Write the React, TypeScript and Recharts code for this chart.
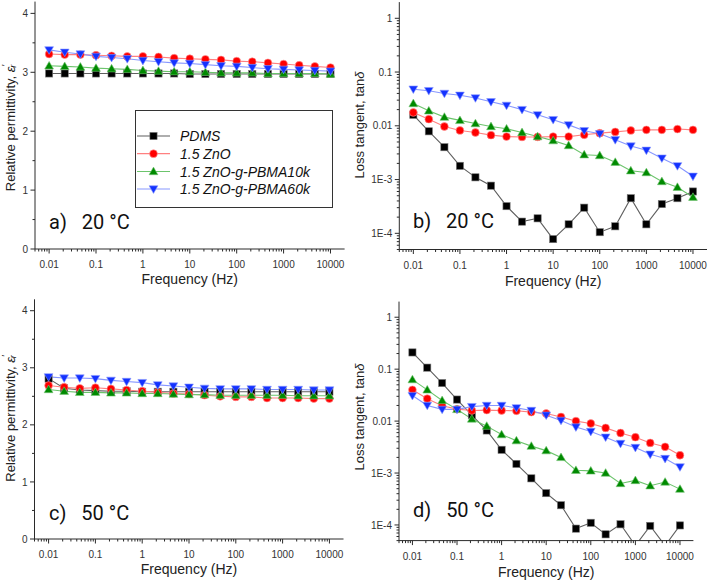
import React from 'react';
import { LineChart, Line, XAxis, YAxis, Legend } from 'recharts';

// ---------- data ----------
const FREQ = [0.01, 0.0215, 0.0464, 0.1, 0.215, 0.464, 1, 2.15, 4.64, 10, 21.5, 46.4, 100, 215, 464, 1000, 2150, 4640, 10000];

const SERIES_NAMES = ['PDMS', '1.5 ZnO', '1.5 ZnO-g-PBMA10k', '1.5 ZnO-g-PBMA60k'];

// a) permittivity 20 °C
const EPS20_PDMS = [2.98, 2.98, 2.98, 2.98, 2.98, 2.98, 2.98, 2.98, 2.98, 2.97, 2.97, 2.97, 2.97, 2.97, 2.97, 2.97, 2.97, 2.97, 2.97];
const EPS20_ZNO = [3.31, 3.30, 3.30, 3.29, 3.28, 3.27, 3.27, 3.26, 3.24, 3.23, 3.22, 3.21, 3.19, 3.18, 3.16, 3.14, 3.12, 3.10, 3.08];
const EPS20_P10 = [3.11, 3.10, 3.09, 3.07, 3.06, 3.05, 3.03, 3.02, 3.01, 3.01, 3.00, 2.99, 2.99, 2.99, 2.98, 2.98, 2.98, 2.98, 2.97];
const EPS20_P60 = [3.38, 3.34, 3.31, 3.27, 3.25, 3.23, 3.20, 3.18, 3.16, 3.15, 3.13, 3.11, 3.10, 3.08, 3.06, 3.05, 3.04, 3.03, 3.02];

// b) loss tangent 20 °C
const TAN20_PDMS = [0.016, 0.0079, 0.0040, 0.0018, 0.0011, 0.00077, 0.00032, 0.000165, 0.00019, 0.000078, 0.000147, 0.0003, 0.000105, 0.000135, 0.00045, 0.000147, 0.00035, 0.00045, 0.0006];
const TAN20_ZNO = [0.0177, 0.0133, 0.0097, 0.0082, 0.0075, 0.0067, 0.0063, 0.0062, 0.0062, 0.0063, 0.0063, 0.0068, 0.0073, 0.0077, 0.0082, 0.0084, 0.0084, 0.0087, 0.0084];
const TAN20_P10 = [0.026, 0.019, 0.0145, 0.0126, 0.011, 0.0097, 0.0088, 0.0075, 0.0063, 0.0053, 0.0043, 0.0029, 0.0028, 0.0021, 0.00146, 0.00135, 0.00092, 0.00072, 0.00047];
const TAN20_P60 = [0.048, 0.045, 0.040, 0.037, 0.033, 0.028, 0.024, 0.020, 0.016, 0.013, 0.0104, 0.0081, 0.0071, 0.0055, 0.0042, 0.0035, 0.0025, 0.0018, 0.00115];

// c) permittivity 50 °C
const EPS50_PDMS = [2.81, 2.64, 2.61, 2.60, 2.59, 2.59, 2.58, 2.58, 2.58, 2.58, 2.58, 2.58, 2.58, 2.58, 2.58, 2.58, 2.58, 2.58, 2.58];
const EPS50_ZNO = [2.69, 2.66, 2.64, 2.65, 2.63, 2.61, 2.59, 2.57, 2.55, 2.54, 2.52, 2.50, 2.49, 2.49, 2.47, 2.47, 2.47, 2.46, 2.46];
const EPS50_P10 = [2.62, 2.59, 2.57, 2.57, 2.56, 2.56, 2.55, 2.55, 2.54, 2.53, 2.53, 2.52, 2.52, 2.52, 2.52, 2.52, 2.51, 2.51, 2.51];
const EPS50_P60 = [2.84, 2.82, 2.82, 2.81, 2.78, 2.76, 2.74, 2.70, 2.68, 2.66, 2.64, 2.63, 2.63, 2.63, 2.62, 2.62, 2.62, 2.61, 2.61];

// d) loss tangent 50 °C
const TAN50_PDMS = [0.21, 0.107, 0.054, 0.026, 0.013, 0.0066, 0.0028, 0.0015, 0.00079, 0.00041, 0.00024, 0.000085, 0.00011, 0.000066, 0.000103, 0.00004, 0.000096, 0.00004, 0.000098];
const TAN50_ZNO = [0.040, 0.027, 0.0197, 0.017, 0.016, 0.0163, 0.016, 0.0158, 0.0149, 0.014, 0.012, 0.010, 0.0090, 0.0074, 0.0059, 0.0049, 0.0038, 0.0032, 0.0022];
const TAN50_P10 = [0.063, 0.040, 0.025, 0.0168, 0.011, 0.0080, 0.0055, 0.0042, 0.0033, 0.0027, 0.0020, 0.00113, 0.0011, 0.0010, 0.00063, 0.00072, 0.00057, 0.00067, 0.00049];
const TAN50_P60 = [0.031, 0.020, 0.0168, 0.0168, 0.019, 0.020, 0.020, 0.018, 0.016, 0.013, 0.0103, 0.0077, 0.0063, 0.0049, 0.0037, 0.0031, 0.0023, 0.0019, 0.00131];

// ticks
const X_MAJOR = [0.01, 0.1, 1, 10, 100, 1000, 10000];
const X_LABELS = ['0.01', '0.1', '1', '10', '100', '1000', '10000'];
const X_DOMAIN = [0.005, 20000];

const EPS_MAJOR = [0, 1, 2, 3, 4];
const EPS_LABELS = ['0', '1', '2', '3', '4'];
const EPS_MINOR = [0.5, 1.5, 2.5, 3.5];

const TAN_MAJOR = [0.0001, 0.001, 0.01, 0.1, 1];
const TAN_LABELS = ['1E-4', '1E-3', '0.01', '0.1', '1'];
const TAN_DOMAIN = [0.00005, 2];

// ---------- helpers ----------
function logMinor(lo: number, hi: number, majors: number[]) {
  const out: number[] = [];
  for (let d = -6; d <= 5; d++) {
    for (let m = 2; m <= 9; m++) {
      const v = m * Math.pow(10, d);
      if (v >= lo * 0.999 && v <= hi * 0.999 && !majors.includes(v)) out.push(v);
    }
  }
  return out;
}
const X_ALL = [...X_MAJOR, ...logMinor(X_DOMAIN[0], X_DOMAIN[1], X_MAJOR)].sort((a, b) => a - b);
const TAN_ALL = [...TAN_MAJOR, ...logMinor(TAN_DOMAIN[0], TAN_DOMAIN[1], TAN_MAJOR)].sort((a, b) => a - b);
const EPS_ALL = [...EPS_MAJOR, ...EPS_MINOR].sort((a, b) => a - b);

function majorIndex(v: number, majors: number[]) {
  return majors.findIndex((m) => Math.abs(m - v) <= Math.abs(m) * 1e-6 + 1e-12);
}

const FONT = '"Liberation Sans", Arial, Helvetica, sans-serif';
const AXIS = '#2a2a2a';
const TICK_FILL = '#333';

const SERIES = [
  { key: 'pdms', kind: 'square', line: '#5f5f5f', mark: '#000000', edge: '#7a7a7a' },
  { key: 'zno', kind: 'circle', line: '#ff8080', mark: '#ff0000', edge: '#ff9a9a' },
  { key: 'p10', kind: 'up', line: '#6cc46c', mark: '#008a00', edge: '#74c474' },
  { key: 'p60', kind: 'down', line: '#8797ff', mark: '#1432ff', edge: '#8a98ff' },
];

function marker(kind: string, cx: number, cy: number, fill: string, edge: string, key: any) {
  if (cx == null || cy == null || isNaN(cx) || isNaN(cy)) return <g key={key} />;
  if (kind === 'square')
    return <rect key={key} x={cx - 3.6} y={cy - 3.6} width={7.2} height={7.2} fill={fill} stroke={edge} strokeWidth={0.6} />;
  if (kind === 'circle')
    return <circle key={key} cx={cx} cy={cy} r={3.9} fill={fill} stroke={edge} strokeWidth={0.6} />;
  if (kind === 'up')
    return <polygon key={key} points={`${cx},${cy - 4.4} ${cx + 4.4},${cy + 3.2} ${cx - 4.4},${cy + 3.2}`} fill={fill} stroke={edge} strokeWidth={0.6} />;
  return <polygon key={key} points={`${cx - 4.4},${cy - 3.2} ${cx + 4.4},${cy - 3.2} ${cx},${cy + 4.4}`} fill={fill} stroke={edge} strokeWidth={0.6} />;
}

function buildRows(a: number[], b: number[], c: number[], d: number[]) {
  return FREQ.map((f, i) => ({ f, pdms: a[i], zno: b[i], p10: c[i], p60: d[i] }));
}

const XTick = (p: any) => {
  const { x, y, payload } = p;
  const idx = majorIndex(payload.value, X_MAJOR);
  const major = idx >= 0;
  return (
    <g>
      <line x1={x} x2={x} y1={y} y2={y + (major ? 4.5 : 2.5)} stroke={AXIS} strokeWidth={1} />
      {major && (
        <text x={x} y={y + 19} textAnchor="middle" fontSize={10} fontFamily={FONT} fill={TICK_FILL}>
          {X_LABELS[idx]}
        </text>
      )}
    </g>
  );
};

const makeYTick = (majors: number[], labels: string[]) => (p: any) => {
  const { x, y, payload } = p;
  const idx = majorIndex(payload.value, majors);
  const major = idx >= 0;
  return (
    <g>
      <line x1={x - (major ? 4.5 : 2.5)} x2={x} y1={y} y2={y} stroke={AXIS} strokeWidth={1} />
      {major && (
        <text x={x - 7} y={y + 3.6} textAnchor="end" fontSize={10} fontFamily={FONT} fill={TICK_FILL}>
          {labels[idx]}
        </text>
      )}
    </g>
  );
};

const EpsTitle = () => (
  <>
    Relative permittivity,{' '}
    <tspan fontStyle="italic">ε</tspan>
    <tspan fontStyle="italic" fontSize={9} dy={-5}>′</tspan>
    <tspan fontStyle="italic" fontSize={9} dx={-3} dy={8}>r</tspan>
  </>
);
const TanTitle = () => (
  <>
    Loss tangent, tan<tspan fontStyle="italic">δ</tspan>
  </>
);

const LegendBox = () => {
  const rows = [25, 42.7, 60.5, 78];
  return (
    <div
      style={{
        width: 198,
        height: 98,
        border: '1px solid #333',
        boxSizing: 'border-box',
        background: '#fff',
      }}
    >
      <svg width={196} height={96} style={{ display: 'block' }}>
        {SERIES.map((s, i) => (
          <g key={s.key}>
            <line x1={1} x2={34} y1={rows[i]} y2={rows[i]} stroke={s.line} strokeWidth={1.2} />
            {marker(s.kind, 17.5, rows[i], s.mark, s.edge, 'm' + i)}
            <text
              x={44}
              y={rows[i] + 5}
              fontSize={14}
              fontStyle="italic"
              fontFamily={FONT}
              fill="#111"
            >
              {SERIES_NAMES[i]}
            </text>
          </g>
        ))}
      </svg>
    </div>
  );
};

type PanelProps = {
  left: number;
  top: number;
  width: number;
  height: number;
  plotLeft: number;
  plotRight: number;
  plotTop: number;
  plotBottom: number;
  rows: any[];
  log: boolean;
  title: 'eps' | 'tan';
  titleX: number;
  titleY: number;
  panelText: string;
  panelX: number;
  panelY: number;
  freqY: number;
  legend?: boolean;
};

const Panel = (pp: PanelProps) => {
  const margin = { top: pp.plotTop, right: pp.width - pp.plotRight, left: 0, bottom: 0 };
  const yTick = pp.log ? makeYTick(TAN_MAJOR, TAN_LABELS) : makeYTick(EPS_MAJOR, EPS_LABELS);
  const plotCx = (pp.plotLeft + pp.plotRight) / 2;
  return (
    <div style={{ position: 'absolute', left: pp.left, top: pp.top, width: pp.width, height: pp.height }}>
      <LineChart width={pp.width} height={pp.height} data={pp.rows} margin={margin}>
        <XAxis
          dataKey="f"
          type="number"
          scale="log"
          domain={X_DOMAIN}
          allowDataOverflow
          ticks={X_ALL}
          interval={0}
          tickSize={0}
          tickMargin={0}
          tickLine={false}
          tick={XTick}
          height={pp.height - pp.plotBottom}
          axisLine={{ stroke: AXIS, strokeWidth: 1 }}
          label={() => (
            <text x={plotCx} y={pp.freqY} textAnchor="middle" fontSize={14} fontFamily={FONT} fill="#222">
              Frequency (Hz)
            </text>
          )}
        />
        <YAxis
          type="number"
          scale={pp.log ? 'log' : 'linear'}
          domain={pp.log ? TAN_DOMAIN : [0, 4.2]}
          allowDataOverflow
          ticks={pp.log ? TAN_ALL : EPS_ALL}
          interval={0}
          tickSize={0}
          tickMargin={0}
          tickLine={false}
          tick={yTick}
          width={pp.plotLeft}
          axisLine={{ stroke: AXIS, strokeWidth: 1 }}
          label={() => (
            <g>
              <text
                x={pp.titleX}
                y={pp.titleY}
                transform={`rotate(-90, ${pp.titleX}, ${pp.titleY})`}
                textAnchor="middle"
                dominantBaseline="central"
                fontSize={13}
                fontFamily={FONT}
                fill="#222"
              >
                {pp.title === 'eps' ? <EpsTitle /> : <TanTitle />}
              </text>
              <text
                x={pp.panelX}
                y={pp.panelY}
                fontSize={20}
                fontFamily="Roboto, sans-serif"
                fill="#111"
                style={{ whiteSpace: 'pre' }}
                xmlSpace="preserve"
              >
                {pp.panelText}
              </text>
            </g>
          )}
        />
        {pp.legend && (
          <Legend
            layout="vertical"
            align="center"
            verticalAlign="middle"
            wrapperStyle={{ left: 135, top: 110, width: 198, height: 98 }}
            content={() => <LegendBox />}
          />
        )}
        {SERIES.map((s, i) => (
          <Line
            key={s.key}
            dataKey={s.key}
            name={SERIES_NAMES[i]}
            type="linear"
            stroke={s.line}
            strokeWidth={1.1}
            isAnimationActive={false}
            dot={(d: any) => marker(s.kind, d.cx, d.cy, s.mark, s.edge, `${s.key}-${d.index}`)}
            activeDot={false}
          />
        ))}
      </LineChart>
    </div>
  );
};

const ROWS_A = buildRows(EPS20_PDMS, EPS20_ZNO, EPS20_P10, EPS20_P60);
const ROWS_B = buildRows(TAN20_PDMS, TAN20_ZNO, TAN20_P10, TAN20_P60);
const ROWS_C = buildRows(EPS50_PDMS, EPS50_ZNO, EPS50_P10, EPS50_P60);
const ROWS_D = buildRows(TAN50_PDMS, TAN50_ZNO, TAN50_P10, TAN50_P60);

export default function App() {
  return (
    <div style={{ position: 'absolute', left: 0, top: 0, width: 709, height: 581, background: '#fff', overflow: 'hidden' }}>
      <Panel
        left={0} top={0} width={350} height={290}
        plotLeft={35} plotRight={344.6} plotTop={1.6} plotBottom={249}
        rows={ROWS_A} log={false} title="eps" titleX={10} titleY={128}
        panelText={'a)   20 °C'} panelX={49} panelY={229} freqY={284} legend
      />
      <Panel
        left={350} top={0} width={359} height={290}
        plotLeft={49.3} plotRight={357} plotTop={2.1} plotBottom={249.5}
        rows={ROWS_B} log title="tan" titleX={9} titleY={125}
        panelText={'b)   20 °C'} panelX={63} panelY={228} freqY={286}
      />
      <Panel
        left={0} top={290} width={350} height={291}
        plotLeft={34.5} plotRight={343.5} plotTop={9.3} plotBottom={249}
        rows={ROWS_C} log={false} title="eps" titleX={10} titleY={128.5}
        panelText={'c)   50 °C'} panelX={49} panelY={230} freqY={284}
      />
      <Panel
        left={350} top={290} width={359} height={291}
        plotLeft={49} plotRight={343.4} plotTop={11.6} plotBottom={250.6}
        rows={ROWS_D} log title="tan" titleX={9} titleY={127}
        panelText={'d)   50 °C'} panelX={63} panelY={227} freqY={287}
      />
    </div>
  );
}
